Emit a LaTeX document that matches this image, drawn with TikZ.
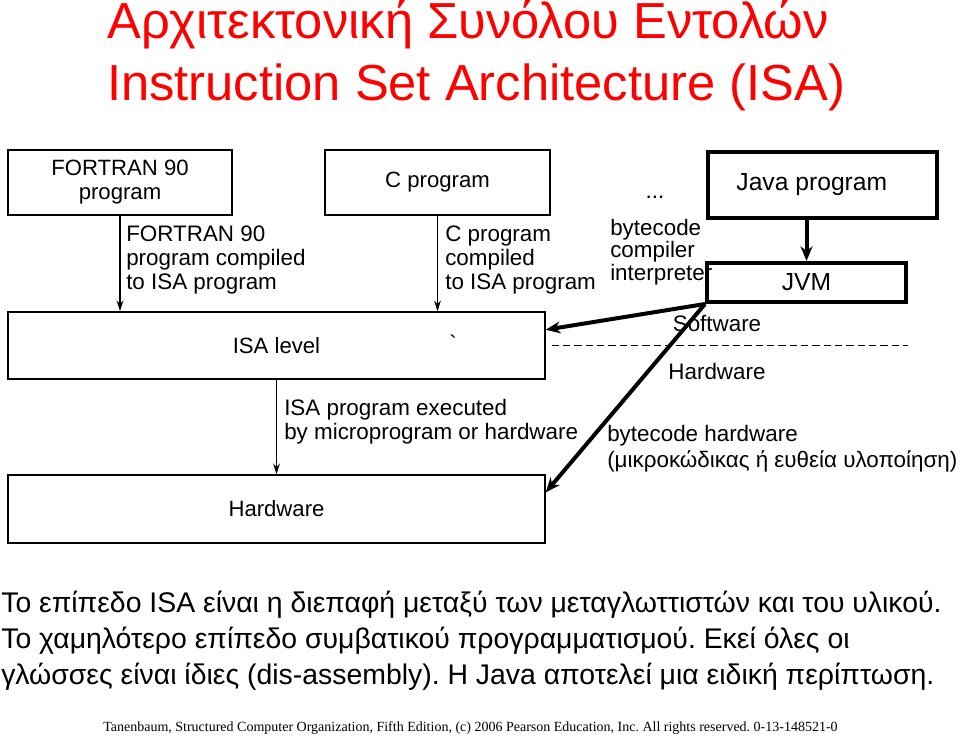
\documentclass[tikz,border=0pt]{standalone}
\usepackage{fontspec}
\setmainfont{Liberation Sans}
\newfontfamily\footfont{Liberation Serif}
\usetikzlibrary{arrows.meta, positioning, calc}
\frenchspacing

\tikzset{
  thinbox/.style={draw, line width=1.1pt, inner sep=0pt, font=\fontsize{16.6}{18}\selectfont, align=center},
  thickbox/.style={draw, line width=3pt, inner sep=0pt, font=\fontsize{18.5}{20}\selectfont},
  lbl/.style={inner sep=0pt, align=left, anchor=west, font=\fontsize{16.8}{18}\selectfont},
  thinarr/.style={line width=1.1pt, -{Stealth[length=8pt, width=5pt]}},
  thickarr/.style={line width=3pt, -{Stealth[length=11pt, width=9pt]}}
}

\begin{document}
\begin{tikzpicture}[x=0.75pt, y=-0.75pt]
  \useasboundingbox (0,0) rectangle (960,739);

  % Title
  \node[anchor=base west, inner sep=0pt, text=red, font=\fontsize{38}{44}\selectfont] (title1) at (107,38) {Αρχιτεκτονική Συνόλου Εντολών};
  \node[anchor=base west, inner sep=0pt, text=red, font=\fontsize{38}{44}\selectfont] (title2) at (107,100) {Instruction Set Architecture (ISA)};

  % Boxes
  \node[thinbox, minimum width=168pt, minimum height=48.75pt] (fortran) at (120,182.5) {FORTRAN 90\\program};
  \node[thinbox, minimum width=168.75pt, minimum height=48.75pt] (cprog) at (437.5,182.5) {C program};
  \node[thickbox, minimum width=171.75pt, minimum height=49.5pt] (java) at (822.5,185) {Java program\hspace*{16pt}};
  \node[thickbox, minimum width=149.25pt, minimum height=29.25pt] (jvm) at (806.5,282.5) {JVM};
  \node[thinbox, minimum width=402.75pt, minimum height=50.25pt] (isa) at (276.5,345.5) {ISA level};
  \node[thinbox, minimum width=402.75pt, minimum height=51pt] (hw) at (276.5,509) {Hardware};

  % Labels
  \node[inner sep=0pt, font=\fontsize{16.8}{18}\selectfont] (dots) at (655,197) {...};
  \node[lbl, font=\fontsize{16.8}{15}\selectfont] (bclbl) at (610,252) {bytecode\\compiler\\interpreter};
  \node[lbl] (flbl) at (126,260) {FORTRAN 90\\program compiled\\to ISA program};
  \node[lbl] (clbl) at (445,260) {C program\\compiled\\to ISA program};
  \node[inner sep=0pt, font=\fontsize{16.8}{18}\selectfont] (tick) at (453,343) {\textasciigrave};
  \node[inner sep=0pt, font=\fontsize{16.8}{18}\selectfont] (sw) at (717,323) {Software};
  \node[inner sep=0pt, font=\fontsize{16.8}{18}\selectfont] (hwlbl) at (717,371) {Hardware};
  \node[lbl] (xlbl) at (284,422) {ISA program executed\\by microprogram or hardware};
  \node[lbl, font=\fontsize{16.8}{19.5}\selectfont] (bhlbl) at (607,449) {bytecode hardware\\(μικροκώδικας ή ευθεία υλοποίηση)};

  % Arrows
  \draw[thinarr] (fortran) -- (fortran |- isa.north);
  \draw[thinarr] (cprog) -- (cprog |- isa.north);
  \draw[thinarr] (isa) -- (isa |- hw.north);
  \draw[thickarr] (jvm.north |- java.south) -- (jvm.north);
  \draw[thickarr] (jvm.south west) -- ($(isa.north east)!0.27!(isa.south east)$);
  \draw[thickarr] (jvm.south west) -- ($(hw.north east)!0.26!(hw.south east)$);

  % Software / hardware border
  \draw[line width=1.4pt, dash pattern=on 5.5pt off 3pt] ($(isa.east)+(6,0)$) -- (jvm.east |- isa.east);

  % Text below
  \node[lbl, font=\fontsize{21.3}{27}\selectfont] (note) at (1,641) {Το επίπεδο ISA είναι η διεπαφή μεταξύ των μεταγλωττιστών και του υλικού.\\Το χαμηλότερο επίπεδο συμβατικού προγραμματισμού. Εκεί όλες οι\\γλώσσες είναι ίδιες (dis-assembly). Η Java αποτελεί μια ειδική περίπτωση.};
  \node[lbl, font=\footfont\fontsize{10.5}{12}\selectfont] (foot) at (103,728) {Tanenbaum, Structured Computer Organization, Fifth Edition, (c) 2006 Pearson Education, Inc. All rights reserved. 0-13-148521-0};
\end{tikzpicture}
\end{document}
